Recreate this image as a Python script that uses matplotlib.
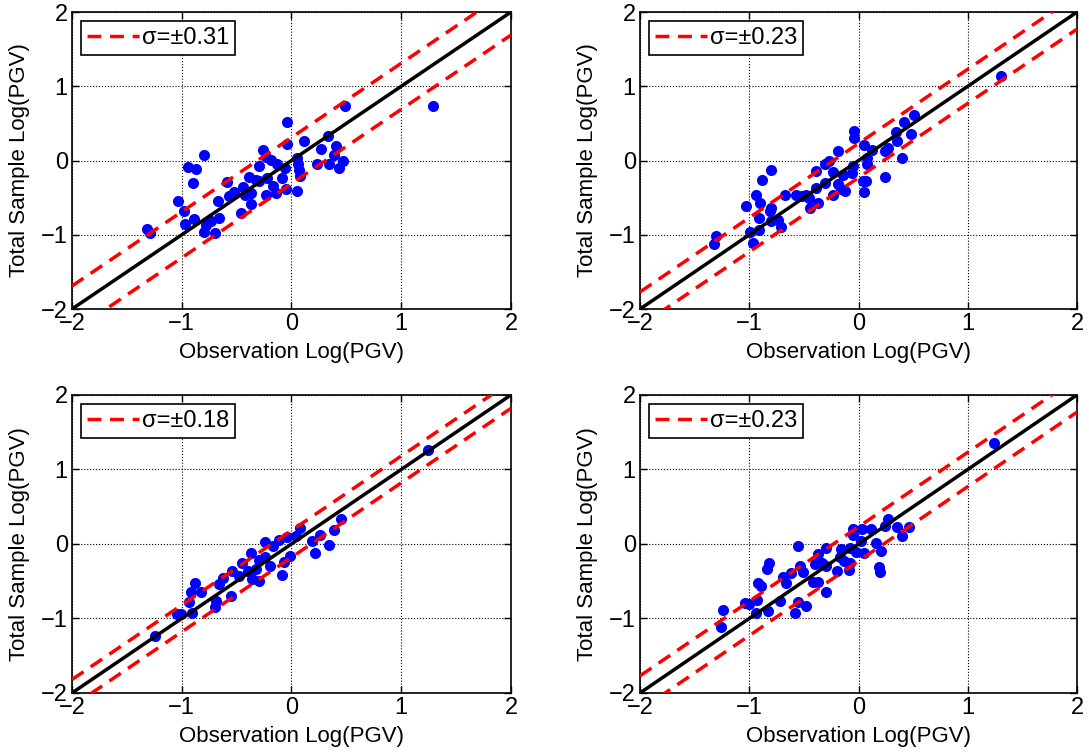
import numpy as np
import matplotlib
matplotlib.use("Agg")
import matplotlib.pyplot as plt

plt.rcParams['font.family'] = ['Liberation Sans', 'DejaVu Sans']
plt.rcParams['axes.unicode_minus'] = True

#Panel 1 (top left)
obs1 = [0.49, 1.29, -0.04, -0.04, 0.11, 0.33, -0.26, 0.27, 0.41, 0.39, 0.47, 0.43, 0.34, 0.23,
        0.06, 0.05, 0.08, 0.07, 0.05, -0.05, -0.14, -0.23, -0.17, -0.09, -0.06, -0.13, -0.19,
        -0.23, -0.30, -0.22, -0.30, -0.39, -0.37, -0.37, -0.46, -0.44, -0.52, -0.57, -0.59,
        -0.67, -0.66, -0.73, -0.70, -0.80, -0.78, -0.89, -0.97, -0.98, -1.03, -0.90, -0.94,
        -0.87, -0.80, -1.32, -1.29, -0.32, -0.42]
sim1 = [0.74, 0.74, 0.52, 0.22, 0.26, 0.33, 0.14, 0.15, 0.19, 0.07, 0.00, -0.10, -0.05, -0.05,
        -0.04, 0.04, -0.21, -0.13, -0.41, -0.39, -0.44, -0.46, -0.34, -0.24, -0.10, -0.04, 0.01,
        0.05, -0.07, -0.23, -0.27, -0.22, -0.44, -0.58, -0.71, -0.35, -0.43, -0.48, -0.29,
        -0.54, -0.77, -0.82, -0.98, -0.96, -0.87, -0.79, -0.85, -0.68, -0.54, -0.30, -0.09,
        -0.12, 0.07, -0.92, -0.97, -0.26, -0.46]

#Panel 2 (top right)
obs2 = [1.30, 0.51, 0.42, 0.48, 0.34, 0.35, 0.27, 0.24, 0.40, 0.24, -0.04, -0.04, 0.05, 0.12,
        0.08, 0.08, -0.19, -0.27, -0.31, -0.23, -0.39, -0.14, -0.06, -0.05, 0.04, 0.07, 0.05,
        -0.19, -0.16, -0.23, -0.12, -0.31, -0.39, -0.37, -0.44, -0.45, -0.52, -0.57, -0.67,
        -0.80, -0.88, -0.94, -0.90, -1.03, -0.80, -0.81, -0.91, -0.80, -0.74, -0.71, -0.91,
        -0.99, -0.97, -1.30, -1.32, -0.48]
sim2 = [1.14, 0.61, 0.52, 0.36, 0.39, 0.26, 0.17, 0.13, 0.03, -0.22, 0.40, 0.30, 0.21, 0.14,
        0.04, -0.04, 0.13, -0.01, -0.04, -0.16, -0.14, -0.19, -0.17, -0.07, -0.28, -0.28, -0.42,
        -0.31, -0.39, -0.46, -0.41, -0.30, -0.37, -0.57, -0.64, -0.51, -0.48, -0.46, -0.46,
        -0.13, -0.26, -0.47, -0.57, -0.61, -0.64, -0.68, -0.78, -0.82, -0.80, -0.89, -0.93,
        -0.96, -1.11, -1.01, -1.12, -0.46]

#Panel 3 (bottom left)
obs3 = [1.24, 0.45, 0.39, 0.34, 0.26, 0.21, 0.19, 0.08, 0.04, -0.04, -0.11, -0.17, -0.24, -0.01,
        -0.07, -0.09, -0.20, -0.24, -0.30, -0.37, -0.45, -0.40, -0.30, -0.36, -0.48, -0.54,
        -0.62, -0.66, -0.55, -0.70, -0.69, -0.82, -0.88, -0.92, -0.93, -0.91, -1.01, -1.04,
        -1.24, -0.32]
sim3 = [1.26, 0.34, 0.19, -0.01, 0.12, -0.12, 0.04, 0.21, 0.11, 0.09, 0.05, -0.03, 0.03, -0.16,
        -0.24, -0.41, -0.30, -0.17, -0.21, -0.12, -0.26, -0.36, -0.50, -0.47, -0.43, -0.36,
        -0.46, -0.54, -0.70, -0.85, -0.77, -0.65, -0.52, -0.64, -0.78, -0.92, -0.94, -0.94,
        -1.23, -0.34]

#Panel 4 (bottom right)
obs4 = [1.24, 0.27, 0.24, 0.35, 0.46, 0.40, 0.11, 0.03, -0.05, -0.05, 0.02, 0.16, 0.21, 0.19,
        0.20, 0.05, -0.02, -0.08, -0.16, -0.17, -0.08, -0.09, -0.20, -0.30, -0.37, -0.55, -0.33,
        -0.40, -0.30, -0.37, -0.42, -0.30, -0.51, -0.54, -0.62, -0.69, -0.66, -0.82, -0.84,
        -0.92, -0.89, -0.93, -1.04, -1.00, -0.72, -0.55, -0.48, -0.58, -0.83, -0.94, -1.24,
        -1.26, -0.13]
sim4 = [1.35, 0.34, 0.24, 0.23, 0.23, 0.11, 0.20, 0.20, 0.20, 0.12, 0.04, 0.01, -0.10, -0.31,
        -0.38, -0.12, -0.11, -0.05, -0.07, -0.18, -0.25, -0.35, -0.36, -0.05, -0.14, -0.03, -0.25,
        -0.27, -0.30, -0.51, -0.51, -0.65, -0.38, -0.30, -0.39, -0.45, -0.53, -0.26, -0.34,
        -0.52, -0.56, -0.75, -0.79, -0.80, -0.77, -0.78, -0.83, -0.92, -0.90, -0.92, -0.89,
        -1.11, -0.23]

sigmas = [0.31, 0.23, 0.18, 0.23]
Obs = [obs1, obs2, obs3, obs4]
Sim = [sim1, sim2, sim3, sim4]

#Axes positions (left, bottom, width, height)
positions = [[0.0661, 0.5896, 0.4031, 0.3944],
             [0.5877, 0.5896, 0.4013, 0.3944],
             [0.0661, 0.0797, 0.4031, 0.3958],
             [0.5877, 0.0797, 0.4013, 0.3958]]

fig = plt.figure(figsize=(10.89, 7.53), dpi=100)
line = np.array([-2.0, 2.0])

for i in range(4):
    ax = fig.add_axes(positions[i])
    s = sigmas[i]
    ax.plot(Obs[i], Sim[i], 'o', color='#0000ff', markersize=8, markeredgewidth=0, zorder=3)
    ax.plot(line, line, '-', color='k', linewidth=2.5, zorder=4)
    l1, = ax.plot(line, line + s, color='#ff0000', linewidth=2.5, linestyle=(0, (4, 2.5)), zorder=4)
    ax.plot(line, line - s, color='#ff0000', linewidth=2.5, linestyle=(0, (4, 2.5)), zorder=4)

    #Format the axes
    ax.set_xlim(-2, 2)
    ax.set_ylim(-2, 2)
    ax.set_xticks([-2, -1, 0, 1, 2])
    ax.set_yticks([-2, -1, 0, 1, 2])
    ax.grid(True, color='k', linestyle=':', linewidth=0.8)
    ax.tick_params(direction='in', top=True, right=True, labelsize=17, length=5, width=1, pad=3)
    for sp in ax.spines.values():
        sp.set_linewidth(1.2)

    #Label the axes
    ax.set_xlabel("Observation Log(PGV)", fontsize=16, labelpad=5)
    ax.set_ylabel("Total Sample Log(PGV)", fontsize=16, labelpad=8)

    #Make the legend
    leg = ax.legend([l1], [r"σ=±%.2f" % s], loc='upper left', fontsize=17, frameon=True,
                    fancybox=False, edgecolor='k', framealpha=1, handlelength=2.2,
                    handletextpad=0.1, borderpad=0.25, borderaxespad=0.4)
    leg.get_frame().set_linewidth(1.2)

plt.savefig("out.png", dpi=100)
